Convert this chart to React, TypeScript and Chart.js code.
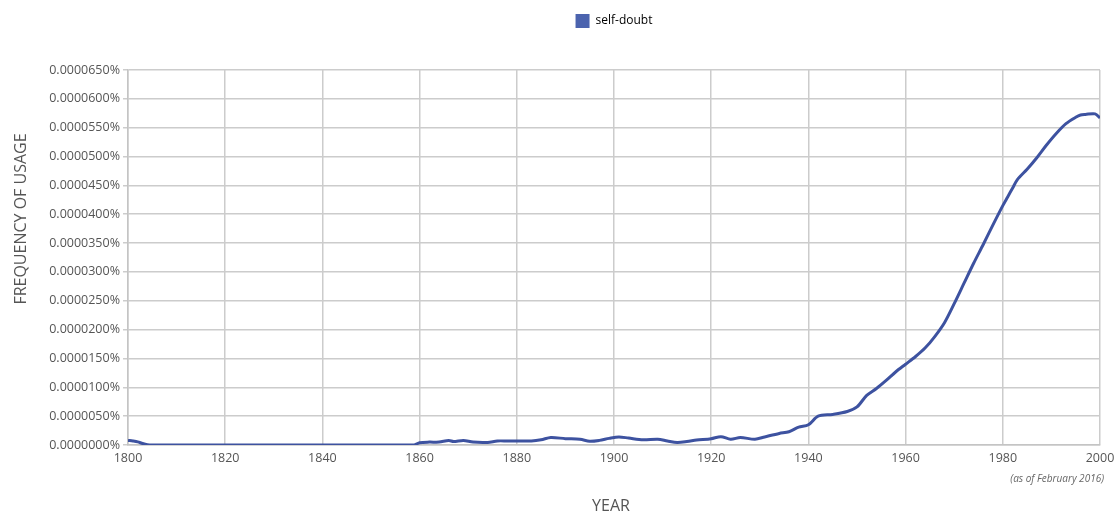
import React, { useEffect, useRef } from "react";
import { Chart, registerables } from "chart.js";

Chart.register(...registerables);

// Data (frequency in units of 1e-7 %)
const seriesLabel = "self-doubt";
const years = [
  1800, 1801, 1802, 1803, 1804, 1805, 1858, 1859, 1860, 1862, 1864, 1866, 1867, 1869, 1871, 1874,
  1876, 1878, 1880, 1883, 1885, 1887, 1890, 1893, 1895, 1897, 1899, 1901, 1903, 1906, 1909, 1911,
  1913, 1915, 1917, 1920, 1922, 1924, 1926, 1929, 1931, 1934, 1936, 1938, 1940, 1942, 1945, 1948,
  1950, 1952, 1954, 1956, 1958, 1960, 1962, 1964, 1966, 1968, 1970, 1972, 1974, 1976, 1978, 1980,
  1981, 1982, 1983, 1985, 1987, 1989, 1991, 1993, 1995, 1996, 1997, 1999, 2000,
];
const values = [
  8, 7, 5.5, 2.5, 0.5, 0, 0, 0.5, 4, 5, 5, 8, 6, 8, 5, 4.5,
  7, 7, 7, 7, 9, 13, 11, 10, 6.5, 8, 11.5, 14, 12, 9, 10, 7,
  4.5, 6, 8.5, 11, 14.5, 10, 13, 10, 14, 20, 23, 31, 35, 50, 53, 58,
  66, 86, 98, 112, 127, 140, 153, 168, 188, 212, 245, 280, 315, 348, 382, 415,
  430, 445, 460, 478, 498, 520, 540, 557, 568, 572, 573, 574, 567,
];
const xMin = 1800;
const xMax = 2000;
const xStep = 20;
const yMin = 0;
const yMax = 650;
const yStep = 50;
const yTitle = "FREQUENCY OF USAGE";
const xTitle = "YEAR";
const note = "(as of February 2016)";

const FONT = "'Open Sans', 'DejaVu Sans', sans-serif";

export default function App() {
  const ref = useRef<HTMLCanvasElement | null>(null);

  useEffect(() => {
    document.body.style.margin = "0";
    const canvas = ref.current;
    if (!canvas) return;

    const legendHeight = {
      id: "legendHeight",
      beforeInit(chart: any) {
        const legend = chart.legend;
        if (!legend) return;
        const orig = legend.fit;
        legend.fit = function () {
          orig.call(this);
          this.height = 70;
        };
      },
    };

    const texts = {
      id: "texts",
      afterDraw(chart: any) {
        const ctx = chart.ctx;
        const area = chart.chartArea;
        ctx.save();
        ctx.fillStyle = "#555";
        ctx.font = `16px ${FONT}`;
        ctx.textAlign = "center";
        ctx.textBaseline = "middle";
        ctx.save();
        ctx.translate(21, 219);
        ctx.rotate(-Math.PI / 2);
        ctx.fillText(yTitle, 0, 0);
        ctx.restore();
        ctx.fillText(xTitle, (area.left + area.right) / 2 - 3, 506);
        ctx.font = `italic 10px ${FONT}`;
        ctx.fillStyle = "#666";
        ctx.textAlign = "right";
        ctx.fillText(note, 1104, 479);
        ctx.restore();
      },
    };

    const chart = new Chart(canvas, {
      type: "line",
      data: {
        datasets: [
          {
            label: seriesLabel,
            data: years.map((y, i) => ({ x: y, y: values[i] })),
            borderColor: "#3d52a0",
            backgroundColor: "#4b63ae",
            borderWidth: 3,
            pointRadius: 0,
            tension: 0.3,
            fill: false,
          },
        ],
      },
      options: {
        animation: false,
        responsive: true,
        maintainAspectRatio: false,
        layout: { padding: { left: 0, right: 16, top: 0, bottom: 0 } },
        plugins: {
          tooltip: { enabled: false },
          legend: {
            display: true,
            position: "top",
            fullSize: false,
            labels: {
              boxWidth: 14,
              boxHeight: 14,
              padding: 14,
              color: "#444",
              font: { family: FONT, size: 12 },
              generateLabels: (c: any) =>
                c.data.datasets.map((d: any, i: number) => ({
                  text: d.label,
                  fillStyle: d.backgroundColor,
                  strokeStyle: d.backgroundColor,
                  lineWidth: 0,
                  datasetIndex: i,
                  hidden: false,
                })),
            },
          },
        },
        scales: {
          x: {
            type: "linear",
            min: xMin,
            max: xMax,
            afterFit: (s: any) => {
              s.height = 72;
              s.paddingRight = 0;
              s.paddingLeft = 0;
            },
            ticks: {
              stepSize: xStep,
              color: "#555",
              padding: 6,
              font: { family: FONT, size: 12.5 },
              callback: (v: any) => String(v),
            },
            grid: { color: "#cccccc", lineWidth: 1.5, drawTicks: false },
            border: { color: "#c4c4c4", width: 1.5 },
          },
          y: {
            min: yMin,
            max: yMax,
            afterFit: (s: any) => {
              s.width = 128;
            },
            ticks: {
              stepSize: yStep,
              color: "#555",
              padding: 3,
              font: { family: FONT, size: 12.5 },
              callback: (v: any) => (Number(v) / 1e7).toFixed(7) + "%",
            },
            grid: { color: "#cccccc", lineWidth: 1.5, tickLength: 5 },
            border: { color: "#c4c4c4", width: 1.5 },
          },
        },
      },
      plugins: [legendHeight, texts],
    });

    return () => chart.destroy();
  }, []);

  return (
    <div style={{ position: "relative", width: 1116, height: 517 }}>
      <canvas ref={ref} />
    </div>
  );
}
